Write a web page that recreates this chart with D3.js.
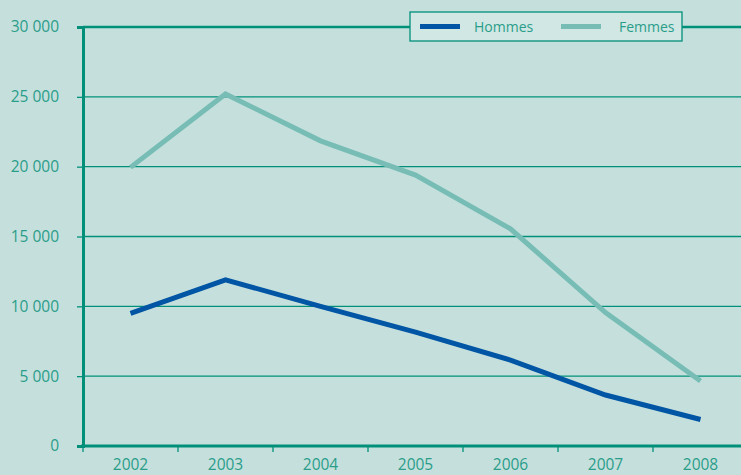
<!DOCTYPE html>
<html>
<head>
<meta charset="utf-8">
<script src="https://cdn.jsdelivr.net/npm/d3@7"></script>
<style>
  html, body { margin: 0; padding: 0; background: #c5e0dc; }
  svg { display: block; }
  text { font-family: "Open Sans", "Noto Sans", sans-serif; }
</style>
</head>
<body>
<svg id="chart" width="741" height="475"></svg>
<script>
// Years on the horizontal axis
const years = ["2002", "2003", "2004", "2005", "2006", "2007", "2008"];
// Series values
const hommes = [9500, 11900, 10000, 8150, 6150, 3650, 1900];
const femmes = [19950, 25200, 21850, 19400, 15550, 9550, 4650];
// Vertical axis ticks
const yTicks = [0, 5000, 10000, 15000, 20000, 25000, 30000];
const seriesNames = ["Hommes", "Femmes"];

const W = 741, H = 475;
const margin = { left: 83, top: 27, right: 0, bottom: 29 };
const teal = "#00907a";
const textCol = "#2a9d8a";
const colors = { Hommes: "#0055a5", Femmes: "#77bdb5" };
const fontSize = 15.5;

const svg = d3.select("#chart");

const x = d3.scaleBand()
  .domain(years)
  .range([margin.left, margin.left + 95 * years.length])
  .paddingInner(0).paddingOuter(0);

const y = d3.scaleLinear()
  .domain([0, 30000])
  .range([H - margin.bottom, margin.top]);

const fmt = v => d3.format(",")(v).replace(/,/g, " ");

// Horizontal gridlines
svg.append("g")
  .selectAll("line")
  .data(yTicks.filter(t => t > 0))
  .join("line")
  .attr("x1", margin.left).attr("x2", W)
  .attr("y1", d => y(d)).attr("y2", d => y(d))
  .attr("stroke", teal)
  .attr("stroke-width", d => d === 30000 ? 2.5 : 1.3);

// Y axis
const yAxis = svg.append("g")
  .attr("transform", `translate(${margin.left},0)`)
  .call(d3.axisLeft(y).tickValues(yTicks).tickSize(6).tickPadding(18).tickFormat(fmt));
yAxis.select(".domain").attr("stroke", teal).attr("stroke-width", 3);
yAxis.selectAll(".tick line").attr("stroke", teal).attr("stroke-width", 1.3);
yAxis.selectAll(".tick text")
  .attr("fill", textCol).attr("font-size", fontSize);

// X axis
const xAxis = svg.append("g")
  .attr("transform", `translate(0,${y(0)})`)
  .call(d3.axisBottom(x).tickSize(0).tickPadding(13));
xAxis.select(".domain").remove();
xAxis.append("line")
  .attr("x1", margin.left - 2).attr("x2", W)
  .attr("y1", 0).attr("y2", 0)
  .attr("stroke", teal).attr("stroke-width", 3);
xAxis.selectAll(".tick text")
  .attr("fill", textCol).attr("font-size", fontSize);
// Tick marks at band boundaries
xAxis.append("g")
  .selectAll("line")
  .data(years)
  .join("line")
  .attr("x1", d => x(d)).attr("x2", d => x(d))
  .attr("y1", 0).attr("y2", 6)
  .attr("stroke", teal).attr("stroke-width", 1.3);

// Lines
const line = d3.line()
  .x((d, i) => x(years[i]) + x.bandwidth() / 2)
  .y(d => y(d));

svg.append("path")
  .datum(femmes)
  .attr("d", line)
  .attr("fill", "none")
  .attr("stroke", colors.Femmes)
  .attr("stroke-width", 5);

svg.append("path")
  .datum(hommes)
  .attr("d", line)
  .attr("fill", "none")
  .attr("stroke", colors.Hommes)
  .attr("stroke-width", 5);

// Legend
const lg = svg.append("g");
lg.append("rect")
  .attr("x", 410).attr("y", 12)
  .attr("width", 272).attr("height", 29)
  .attr("fill", "#d0e7e3")
  .attr("stroke", teal).attr("stroke-width", 1.3);
const legendItems = [
  { name: seriesNames[0], x: 420, tx: 474 },
  { name: seriesNames[1], x: 561, tx: 619 }
];
legendItems.forEach(it => {
  lg.append("line")
    .attr("x1", it.x).attr("x2", it.x + 40)
    .attr("y1", 26.5).attr("y2", 26.5)
    .attr("stroke", colors[it.name]).attr("stroke-width", 5);
  lg.append("text")
    .attr("x", it.tx).attr("y", 31.5)
    .attr("fill", textCol).attr("font-size", 14)
    .text(it.name);
});
</script>
</body>
</html>
